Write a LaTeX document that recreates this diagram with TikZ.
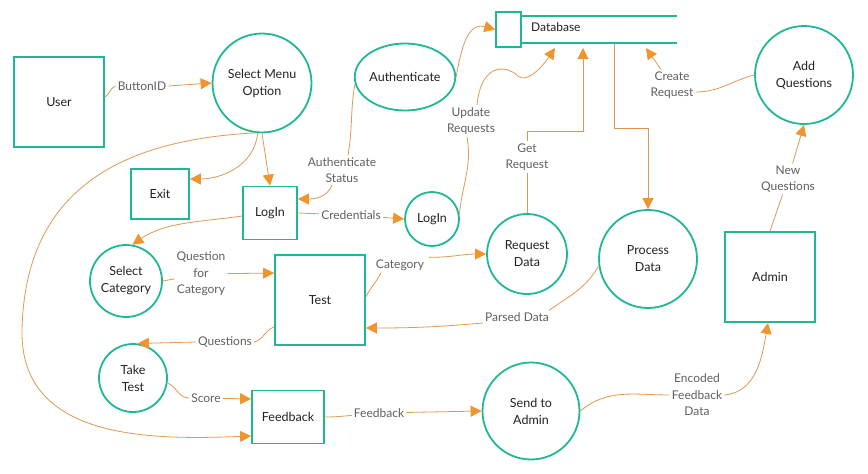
\documentclass[tikz,border=0pt]{standalone}
\usepackage{fontspec}
\setmainfont{Lato}
\usetikzlibrary{arrows.meta,shapes.geometric,calc}
\definecolor{tealc}{RGB}{31,184,150}
\definecolor{linec}{RGB}{222,152,82}
\definecolor{tipc}{RGB}{240,148,46}
\definecolor{txtc}{RGB}{34,34,34}
\definecolor{lblc}{RGB}{95,95,95}
\begin{document}
\begin{tikzpicture}[x=1pt,y=-1pt,
 proc/.style={circle,draw=tealc,line width=1.8pt,fill=white,align=center,text=txtc,font=\fontsize{12.5}{17}\selectfont,inner sep=0pt},
 ent/.style={rectangle,draw=tealc,line width=1.8pt,fill=white,align=center,text=txtc,font=\fontsize{12.5}{17}\selectfont,inner sep=0pt},
 lbl/.style={align=center,text=lblc,font=\fontsize{12}{16.5}\selectfont,inner sep=2pt},
 flow/.style={draw=linec,line width=0.8pt,-{Triangle[length=11pt,width=11pt,color=tipc]}},
]
\useasboundingbox (0,0) rectangle (868,474);

% entities and processes
\node[ent,minimum width=90pt,minimum height=90pt] (user) at (59,102) {User};
\node[proc,minimum size=99pt] (sm) at (262,83) {Select Menu\\Option};
\node[ent,minimum width=58pt,minimum height=50pt] (exit) at (160,194) {Exit};
\node[ent,minimum width=54pt,minimum height=53pt] (login) at (270,213) {LogIn};
\node[ellipse,draw=tealc,line width=1.8pt,fill=white,text=txtc,font=\fontsize{12.5}{17}\selectfont,inner sep=0pt,minimum width=90pt,minimum height=67pt] (auth) at (405,77) {Authenticate};
\node[proc,minimum size=54pt] (login2) at (432,219) {LogIn};
\node[proc,minimum size=80pt] (reqd) at (527,254) {Request\\Data};
\node[proc,minimum size=98pt] (procd) at (648,259) {Process\\Data};
\node[proc,minimum size=98pt] (addq) at (804,75) {Add\\Questions};
\node[ent,minimum width=90pt,minimum height=90pt] (admin) at (770,277) {Admin};
\node[proc,minimum size=72pt] (selcat) at (126,281) {Select\\Category};
\node[ent,minimum width=90pt,minimum height=90pt] (test) at (320,300) {Test};
\node[proc,minimum size=68pt] (tt) at (133,378) {Take\\Test};
\node[ent,minimum width=72pt,minimum height=53pt] (fb) at (288,417) {Feedback};
\node[proc,minimum size=97pt] (send) at (531,411) {Send to\\Admin};

% database store
\draw[tealc,line width=1.8pt] (521,16) -- (677,16);
\draw[tealc,line width=1.2pt] (521,43) -- (677,43);
\node[ent,line width=1.4pt,minimum width=25pt,minimum height=35pt] (dbsq) at (508.5,29.5) {};
\node[anchor=west,text=txtc,font=\fontsize{12}{14}\selectfont,inner sep=0pt] (dbtxt) at (531,27) {Database};
\coordinate (dbU) at (555,48);
\coordinate (dbG) at (583,48);
\coordinate (dbP) at (614,44);
\coordinate (dbC) at (646,48);
\coordinate (gturn) at (583,131);
\coordinate (pturn) at (648,128);
\coordinate (bigbend) at (22,330);

% labels
\node[lbl] (bid) at (142,86) {ButtonID};
\node[lbl] (astat) at (342,170) {Authenticate\\Status};
\node[lbl] (cred) at (351,215) {Credentials};
\node[lbl] (updr) at (471,121) {Update\\Requests};
\node[lbl] (getr) at (527,157) {Get\\Request};
\node[lbl] (crr) at (672,85) {Create\\Request};
\node[lbl] (newq) at (788,179) {New\\Questions};
\node[lbl] (qfc) at (201,274) {Question\\for\\Category};
\node[lbl] (cat) at (400,265) {Category};
\node[lbl] (pars) at (517,317) {Parsed Data};
\node[lbl] (ques) at (225,342) {Questions};
\node[lbl] (score) at (206,398) {Score};
\node[lbl] (fbl) at (379,413) {Feedback};
\node[lbl] (efd) at (697,395) {Encoded\\Feedback\\Data};

% flows
\draw[flow] ([yshift=5pt]user.east) to[out=30,in=200] (bid.west) (bid.east) -- (sm.west);
\draw[flow] (sm.-95) to[out=-95,in=0] ([yshift=15pt]exit.east);
\draw[flow] (sm.south) -- (login.north);
\draw[flow] (sm.-98) .. controls (120,140) and (25,190) .. (bigbend) .. controls (20,440) and (150,440) .. ([yshift=-19pt]fb.west);
\draw[flow] ([yshift=-3pt]login.west) .. controls (200,222) and (165,222) .. (selcat.80);
\draw[flow] (login.east) -- (cred) -- (login2.west);
\draw[flow] (auth.188) to[out=-100,in=80] ([xshift=6pt]astat.north) ([xshift=-10pt]astat.south) to[out=-110,in=0] ([yshift=14pt]login.east);
\draw[flow] (auth.east) to[out=80,in=165,looseness=1.2] (dbsq.west);
\draw[flow] (login2.10) to[out=85,in=-80] ([xshift=-4pt]updr.south) ([xshift=6pt]updr.north) .. controls (481,64) and (505,64) .. (518,76) .. controls (526,83) and (540,70) .. (dbU);
\draw[flow] (reqd.north) -- (getr.south) (getr.north) |- (gturn) -- (dbG);
\draw[flow] (dbP) |- (pturn) -- (procd.north);
\draw[flow] (addq.west) to[out=195,in=0] ([yshift=-7pt]crr.east) (crr) -- (dbC);
\draw[flow] (admin.north) -- (newq) -- (addq.south);
\draw[flow] (selcat.east) -- (qfc) -- ([yshift=27pt]test.west);
\draw[flow] ([yshift=3pt]test.east) to[out=65,in=-115] ([xshift=-19pt]cat.south) ([xshift=3pt]cat.north east) to[out=0,in=180] (reqd.west);
\draw[flow] (procd.188) to[out=-120,in=35] ([xshift=-2pt]pars.north east) ([yshift=-6pt]pars.west) to[out=185,in=0] ([yshift=-28pt]test.east);
\draw[flow] ([yshift=-27pt]test.west) to[out=200,in=15] (ques.east) (ques.west) -- (tt.82);
\draw[flow] (tt.-8) to[out=-25,in=180] (score) (score) -- ([yshift=18pt]fb.west);
\draw[flow] (fb.east) to[out=0,in=185] (fbl) -- (send.west);
\draw[flow] (send.east) to[out=40,in=180] (efd.west) (efd.east) to[out=5,in=-100] ([xshift=-2pt]admin.south);
\end{tikzpicture}
\end{document}
